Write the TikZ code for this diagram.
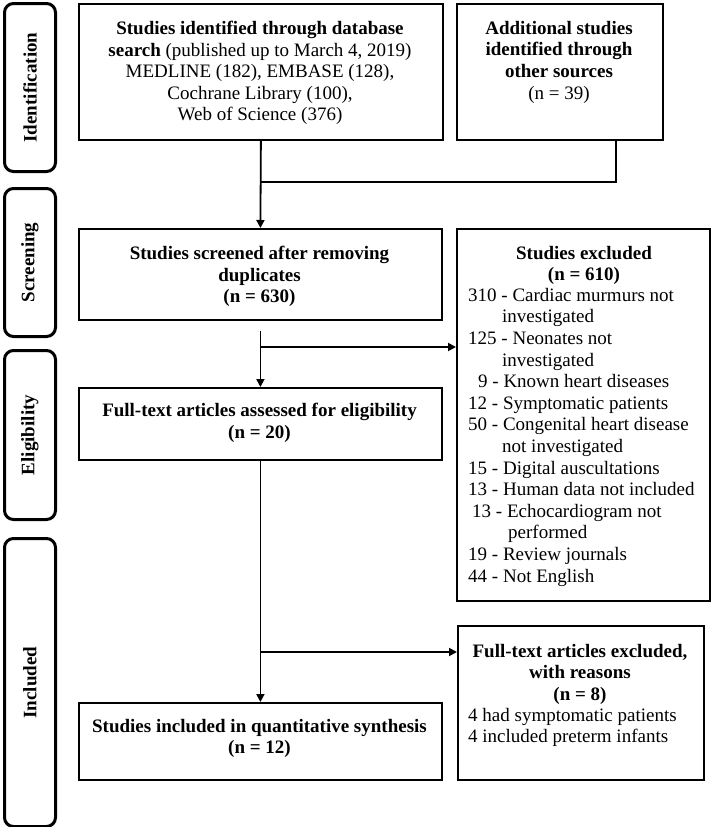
\documentclass[tikz,border=0pt]{standalone}
\usepackage{fontspec}
\setmainfont{Liberation Serif}
\usetikzlibrary{arrows.meta}
\begin{document}
\begin{tikzpicture}[x=1pt,y=-1pt,
  every node/.style={font=\fontsize{19}{21.6}\selectfont},
  box/.style={draw, line width=1.8pt, anchor=north west, inner sep=0pt},
  side/.style={draw, line width=3pt, rounded corners=9pt, anchor=north west, inner sep=0pt},
  sidelab/.style={rotate=90, font=\fontsize{19}{20}\selectfont\bfseries},
  txt/.style={anchor=north, align=center, inner sep=0pt},
  btxt/.style={txt, font=\fontsize{19}{21.6}\selectfont\bfseries},
  lst/.style={anchor=north west, align=left, inner sep=0pt},
  conn/.style={line width=1.8pt},
  arr/.style={conn, -{Triangle[length=8pt,width=8pt]}}]
\useasboundingbox (0,0) rectangle (710,827);
% side phase boxes
\node[side, minimum width=51pt, minimum height=168pt] (sid) at (3,2) {};
\node[sidelab] (lid) at (sid.center) {Identification};
\node[side, minimum width=51pt, minimum height=148pt] (ssc) at (3,187) {};
\node[sidelab] (lsc) at (ssc.center) {Screening};
\node[side, minimum width=51pt, minimum height=169pt] (sel) at (3,349) {};
\node[sidelab] (lel) at (sel.center) {Eligibility};
\node[side, minimum width=51pt, minimum height=288pt] (sin) at (3,537) {};
\node[sidelab] (lin) at (sin.center) {Included};
% main boxes
\node[box, minimum width=364pt, minimum height=136pt] (b1) at (78,3) {};
\node[txt] (t1) at (260,21) {\textbf{Studies identified through database}\\\textbf{search} (published up to March 4, 2019)\\MEDLINE (182), EMBASE (128),\\Cochrane Library (100),\\Web of Science (376)};
\node[box, minimum width=206pt, minimum height=136pt] (b2) at (456,3) {};
\node[txt] (t2) at (559,21) {\textbf{Additional studies}\\\textbf{identified through}\\\textbf{other sources}\\(n = 39)};
\node[box, minimum width=363pt, minimum height=91pt] (b3) at (78,228) {};
\node[btxt] (t3) at (259.5,246) {Studies screened after removing\\duplicates\\(n = 630)};
\node[box, minimum width=253pt, minimum height=372pt] (b7) at (456,228) {};
\node[btxt] (t7) at (584,246) {Studies excluded\\(n = 610)};
\node[lst] (l7) at (468,288) {310 - Cardiac murmurs not\\\hspace*{34pt}investigated\\125 - Neonates not\\\hspace*{34pt}investigated\\\hspace*{10pt}9 - Known heart diseases\\12 - Symptomatic patients\\50 - Congenital heart disease\\\hspace*{34pt}not investigated\\15 - Digital auscultations\\13 - Human data not included\\\hspace*{4pt}13 - Echocardiogram not\\\hspace*{40pt}performed\\19 - Review journals\\44 - Not English};
\node[box, minimum width=363pt, minimum height=72pt] (b4) at (78,387) {};
\node[btxt] (t4) at (259.5,403) {Full-text articles assessed for eligibility\\(n = 20)};
\node[box, minimum width=363pt, minimum height=77pt] (b5) at (78,702) {};
\node[btxt] (t5) at (259.5,719) {Studies included in quantitative synthesis\\(n = 12)};
\node[box, minimum width=246pt, minimum height=154pt] (b6) at (457,625) {};
\node[btxt] (t6) at (580,644) {Full-text articles excluded,\\with reasons\\(n = 8)};
\node[lst] (l6) at (468,708) {4 had symptomatic patients\\4 included preterm infants};
% connectors
\coordinate (j1) at (b1.south |- 0,182);
\draw[arr] (b1.south) -- (b3.north);
\draw[conn] ([xshift=56pt]b2.south) |- (j1);
\coordinate (s3) at ([yshift=-10pt]b3.south);
\coordinate (j3) at (b3.south |- 0,347);
\draw[arr] (s3) -- (b4.north);
\draw[arr] (j3) -- (j3 -| b7.west);
\coordinate (j4) at (b4.south |- 0,652);
\draw[arr] (b4.south) -- (b5.north);
\draw[arr] (j4) -- (j4 -| b6.west);
\end{tikzpicture}
\end{document}
